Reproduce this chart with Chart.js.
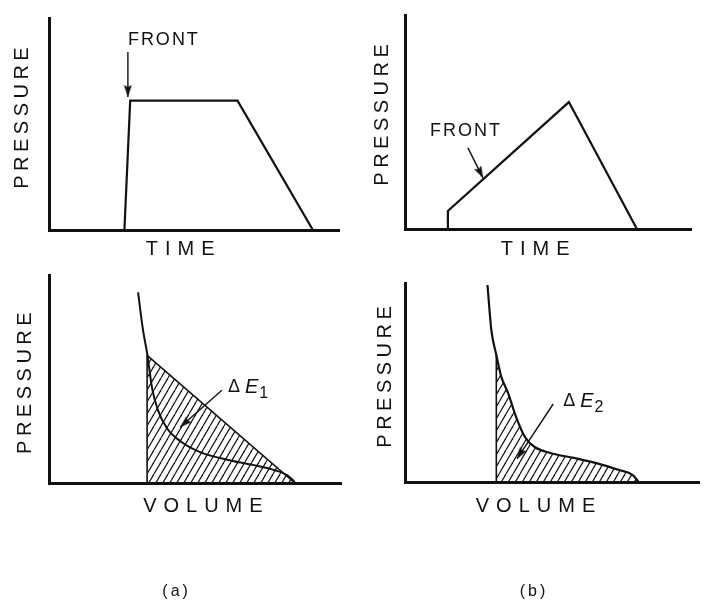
<!DOCTYPE html>
<html>
<head>
<meta charset="utf-8">
<script src="https://cdn.jsdelivr.net/npm/chart.js@4"></script>
<style>
  html, body { margin: 0; padding: 0; background: #fff; }
  #sheet { position: relative; width: 705px; height: 600px; overflow: hidden; background: #fff; }
  #sheet canvas { position: absolute; }
</style>
</head>
<body>
<div id="sheet">
  <canvas id="timeA"   width="352" height="270" style="left:0;top:0;width:352px;height:270px"></canvas>
  <canvas id="timeB"   width="353" height="270" style="left:352px;top:0;width:353px;height:270px"></canvas>
  <canvas id="volumeA" width="352" height="330" style="left:0;top:270px;width:352px;height:330px"></canvas>
  <canvas id="volumeB" width="353" height="330" style="left:352px;top:270px;width:353px;height:330px"></canvas>
</div>
<script>
// ---- pressure histories (relative units, 0-100 on each axis) ----
// (a) sharp shock front, flat top, linear release
const pulseATime      = [26, 28, 65, 91];
const pulseAPressure  = [0, 61, 61, 0];
// (b) small jump followed by a ramped front
const pulseBTime      = [15, 15, 57.3, 81.1];
const pulseBPressure  = [0, 8.4, 59.3, 0];

// ---- pressure-volume paths ----
// (a) release isentrope and the straight Rayleigh line of the shock
const isentropeAVolume   = [30.5, 32.2, 33.6, 35.3, 37.3, 40.4, 44.9, 51.7, 63.0, 74.7, 81.5, 84.2];
const isentropeAPressure = [91.8, 73.6, 62.5, 45.7, 35.1, 26.4, 20.2, 14.9, 10.6, 7.2, 3.8, 0.5];
const rayleighAVolume    = [33.6, 84.2];
const rayleighAPressure  = [61.5, 0];
// (b) ramp compression follows the isentrope itself
const isentropeBVolume   = [28.0, 29.3, 31.0, 32.7, 35.0, 37.7, 40.7, 44.0, 49.3, 57.3, 65.0, 72.7, 77.3, 79.3];
const isentropeBPressure = [99.0, 76.4, 63.8, 52.8, 44.7, 32.7, 22.6, 17.6, 14.6, 12.1, 9.5, 6.0, 3.5, 0];
const hatchBFrom = 2;   // first isentrope point of the shaded work area

// ---- text ----
const pressureLabel = 'PRESSURE';
const timeLabel     = 'TIME';
const volumeLabel   = 'VOLUME';
const frontLabel    = 'FRONT';
const energyLabels  = ['1', '2'];
const panelLabels   = ['(a)', '(b)'];

const INK = '#111';
const FAMILY = '"Liberation Sans", Arial, Helvetica, sans-serif';

const pts = (xs, ys) => xs.map((x, i) => ({ x, y: ys[i] }));

// diagonal hatching used for the energy areas
function hatchPattern() {
  const w = 7, h = 12;
  const c = document.createElement('canvas');
  c.width = w; c.height = h;
  const g = c.getContext('2d');
  g.strokeStyle = INK;
  g.lineWidth = 1.2;
  for (const off of [-w, 0, w]) {
    g.beginPath(); g.moveTo(off, h); g.lineTo(off + w, 0); g.stroke();
  }
  return g.createPattern(c, 'repeat');
}

// filled arrow head, tip at the centre of the image, pointing up
function arrowHead() {
  const c = document.createElement('canvas');
  c.width = 9; c.height = 26;
  const g = c.getContext('2d');
  g.fillStyle = INK;
  g.beginPath();
  g.moveTo(4.5, 13); g.lineTo(8.5, 25); g.lineTo(4.5, 23); g.lineTo(0.5, 25);
  g.closePath(); g.fill();
  return c;
}
const HEAD = arrowHead();

function arrowDataset(from, to) {
  return {
    data: [from, to],
    borderColor: INK,
    borderWidth: 1.4,
    pointRadius: [0, 4],
    pointStyle: HEAD,
    pointRotation(ctx) {
      const ch = ctx.chart, sx = ch.scales.x, sy = ch.scales.y;
      const dx = sx.getPixelForValue(to.x) - sx.getPixelForValue(from.x);
      const dy = sy.getPixelForValue(to.y) - sy.getPixelForValue(from.y);
      return Math.atan2(dx, -dy) * 180 / Math.PI;
    },
    fill: false,
    order: 0
  };
}

// text placed in axis units of each panel
function fontOf(r) { return (r.italic ? 'italic ' : '') + r.size + 'px ' + FAMILY; }
function textLayer(items) {
  return {
    id: 'textLayer',
    afterDraw(chart) {
      const ctx = chart.ctx, sx = chart.scales.x, sy = chart.scales.y;
      ctx.save();
      ctx.fillStyle = INK;
      ctx.textBaseline = 'middle';
      ctx.textAlign = 'left';
      for (const it of items) {
        const px = sx.getPixelForValue(it.x), py = sy.getPixelForValue(it.y);
        let total = 0;
        for (const r of it.runs) {
          ctx.font = fontOf(r);
          const chars = Array.from(r.text);
          total += (r.gap || 0);
          chars.forEach(ch => { total += ctx.measureText(ch).width; });
          total += (r.spacing || 0) * (chars.length - 1);
        }
        ctx.save();
        ctx.translate(px, py);
        if (it.rotate) ctx.rotate(it.rotate);
        let cx = it.align === 'left' ? 0 : -total / 2;
        for (const r of it.runs) {
          ctx.font = fontOf(r);
          cx += (r.gap || 0);
          const chars = Array.from(r.text);
          chars.forEach((ch, i) => {
            ctx.fillText(ch, cx, r.dy || 0);
            cx += ctx.measureText(ch).width + (i < chars.length - 1 ? (r.spacing || 0) : 0);
          });
        }
        ctx.restore();
      }
      ctx.restore();
    }
  };
}

function axes() {
  const axis = () => ({
    type: 'linear', min: 0, max: 100, display: true,
    grid: { display: false, drawTicks: false },
    ticks: { display: false },
    title: { display: false },
    border: { display: true, color: INK, width: 3 }
  });
  return { x: axis(), y: axis() };
}

function panel(id, padding, datasets, items) {
  return new Chart(document.getElementById(id), {
    type: 'line',
    data: { datasets },
    options: {
      responsive: false,
      animation: false,
      events: [],
      layout: { padding },
      scales: axes(),
      plugins: { legend: { display: false }, tooltip: { enabled: false } },
      elements: { point: { radius: 0 }, line: { borderColor: INK } }
    },
    plugins: [textLayer(items)]
  });
}

const HATCH = hatchPattern();
const axisText = (t, spacing) => [{ text: t, size: 20, spacing }];

// (a) pressure vs time
panel('timeA', { left: 49, top: 18, right: 13, bottom: 40 }, [
  { data: pts(pulseATime, pulseAPressure), borderColor: INK, borderWidth: 2.2, fill: false, order: 1 },
  arrowDataset({ x: 27.2, y: 84 }, { x: 27.2, y: 62.7 })
], [
  { runs: axisText(pressureLabel, 4.5), x: -9, y: 52.8, rotate: -Math.PI / 2 },
  { runs: axisText(timeLabel, 7), x: 45.2, y: -9.2 },
  { runs: [{ text: frontLabel, size: 18, spacing: 2 }], x: 27.2, y: 89.6, align: 'left' }
]);

// (b) pressure vs time
panel('timeB', { left: 53, top: 15, right: 14, bottom: 41 }, [
  { data: pts(pulseBTime, pulseBPressure), borderColor: INK, borderWidth: 2.2, fill: false, order: 1 },
  arrowDataset({ x: 22.0, y: 37.9 }, { x: 27.3, y: 23.8 })
], [
  { runs: axisText(pressureLabel, 4.5), x: -7.7, y: 53.3, rotate: -Math.PI / 2 },
  { runs: axisText(timeLabel, 7), x: 45.5, y: -9.6 },
  { runs: [{ text: frontLabel, size: 18, spacing: 2 }], x: 8.7, y: 45.8, align: 'left' }
]);

// (a) pressure vs volume: shock work triangle
panel('volumeA', { left: 49, top: 5, right: 11, bottom: 117 }, [
  { data: pts(isentropeAVolume, isentropeAPressure), borderColor: INK, borderWidth: 2,
    cubicInterpolationMode: 'monotone', fill: false, order: 1 },
  { data: pts(rayleighAVolume, rayleighAPressure), borderColor: INK, borderWidth: 1.6,
    fill: 'origin', backgroundColor: HATCH, order: 3 },
  { data: pts([rayleighAVolume[0], rayleighAVolume[0]], [0, rayleighAPressure[0]]),
    borderColor: INK, borderWidth: 1.6, fill: false, order: 2 },
  arrowDataset({ x: 59.2, y: 44.7 }, { x: 44.9, y: 26.9 })
], [
  { runs: axisText(pressureLabel, 4.5), x: -8.2, y: 48.1, rotate: -Math.PI / 2 },
  { runs: axisText(volumeLabel, 7), x: 52.7, y: -11.1 },
  { runs: [{ text: 'Δ', size: 18 }, { text: 'E', size: 20, italic: true, gap: 5 },
           { text: energyLabels[0], size: 16, gap: 1, dy: 7 }], x: 61.3, y: 46.2, align: 'left' },
  { runs: [{ text: panelLabels[0], size: 16, spacing: 3 }], x: 43.2, y: -52.4 }
]);

// (b) pressure vs volume: work under the isentrope
panel('volumeB', { left: 53, top: 13, right: 0, bottom: 118 }, [
  { data: pts(isentropeBVolume, isentropeBPressure), borderColor: INK, borderWidth: 2.2,
    cubicInterpolationMode: 'monotone', fill: false, order: 1 },
  { data: pts(isentropeBVolume.slice(hatchBFrom), isentropeBPressure.slice(hatchBFrom)),
    borderColor: 'rgba(0,0,0,0)', borderWidth: 0, cubicInterpolationMode: 'monotone',
    fill: 'origin', backgroundColor: HATCH, order: 3 },
  { data: pts([isentropeBVolume[hatchBFrom], isentropeBVolume[hatchBFrom]], [0, isentropeBPressure[hatchBFrom]]),
    borderColor: INK, borderWidth: 1.6, fill: false, order: 2 },
  arrowDataset({ x: 50.3, y: 39.2 }, { x: 38.0, y: 11.6 })
], [
  { runs: axisText(pressureLabel, 4.5), x: -6.7, y: 52.8, rotate: -Math.PI / 2 },
  { runs: axisText(volumeLabel, 7), x: 44.3, y: -12.1 },
  { runs: [{ text: 'Δ', size: 18 }, { text: 'E', size: 20, italic: true, gap: 5 },
           { text: energyLabels[1], size: 16, gap: 1, dy: 7 }], x: 53.7, y: 40.7, align: 'left' },
  { runs: [{ text: panelLabels[1], size: 16, spacing: 3 }], x: 43.3, y: -55.3 }
]);
</script>
</body>
</html>
